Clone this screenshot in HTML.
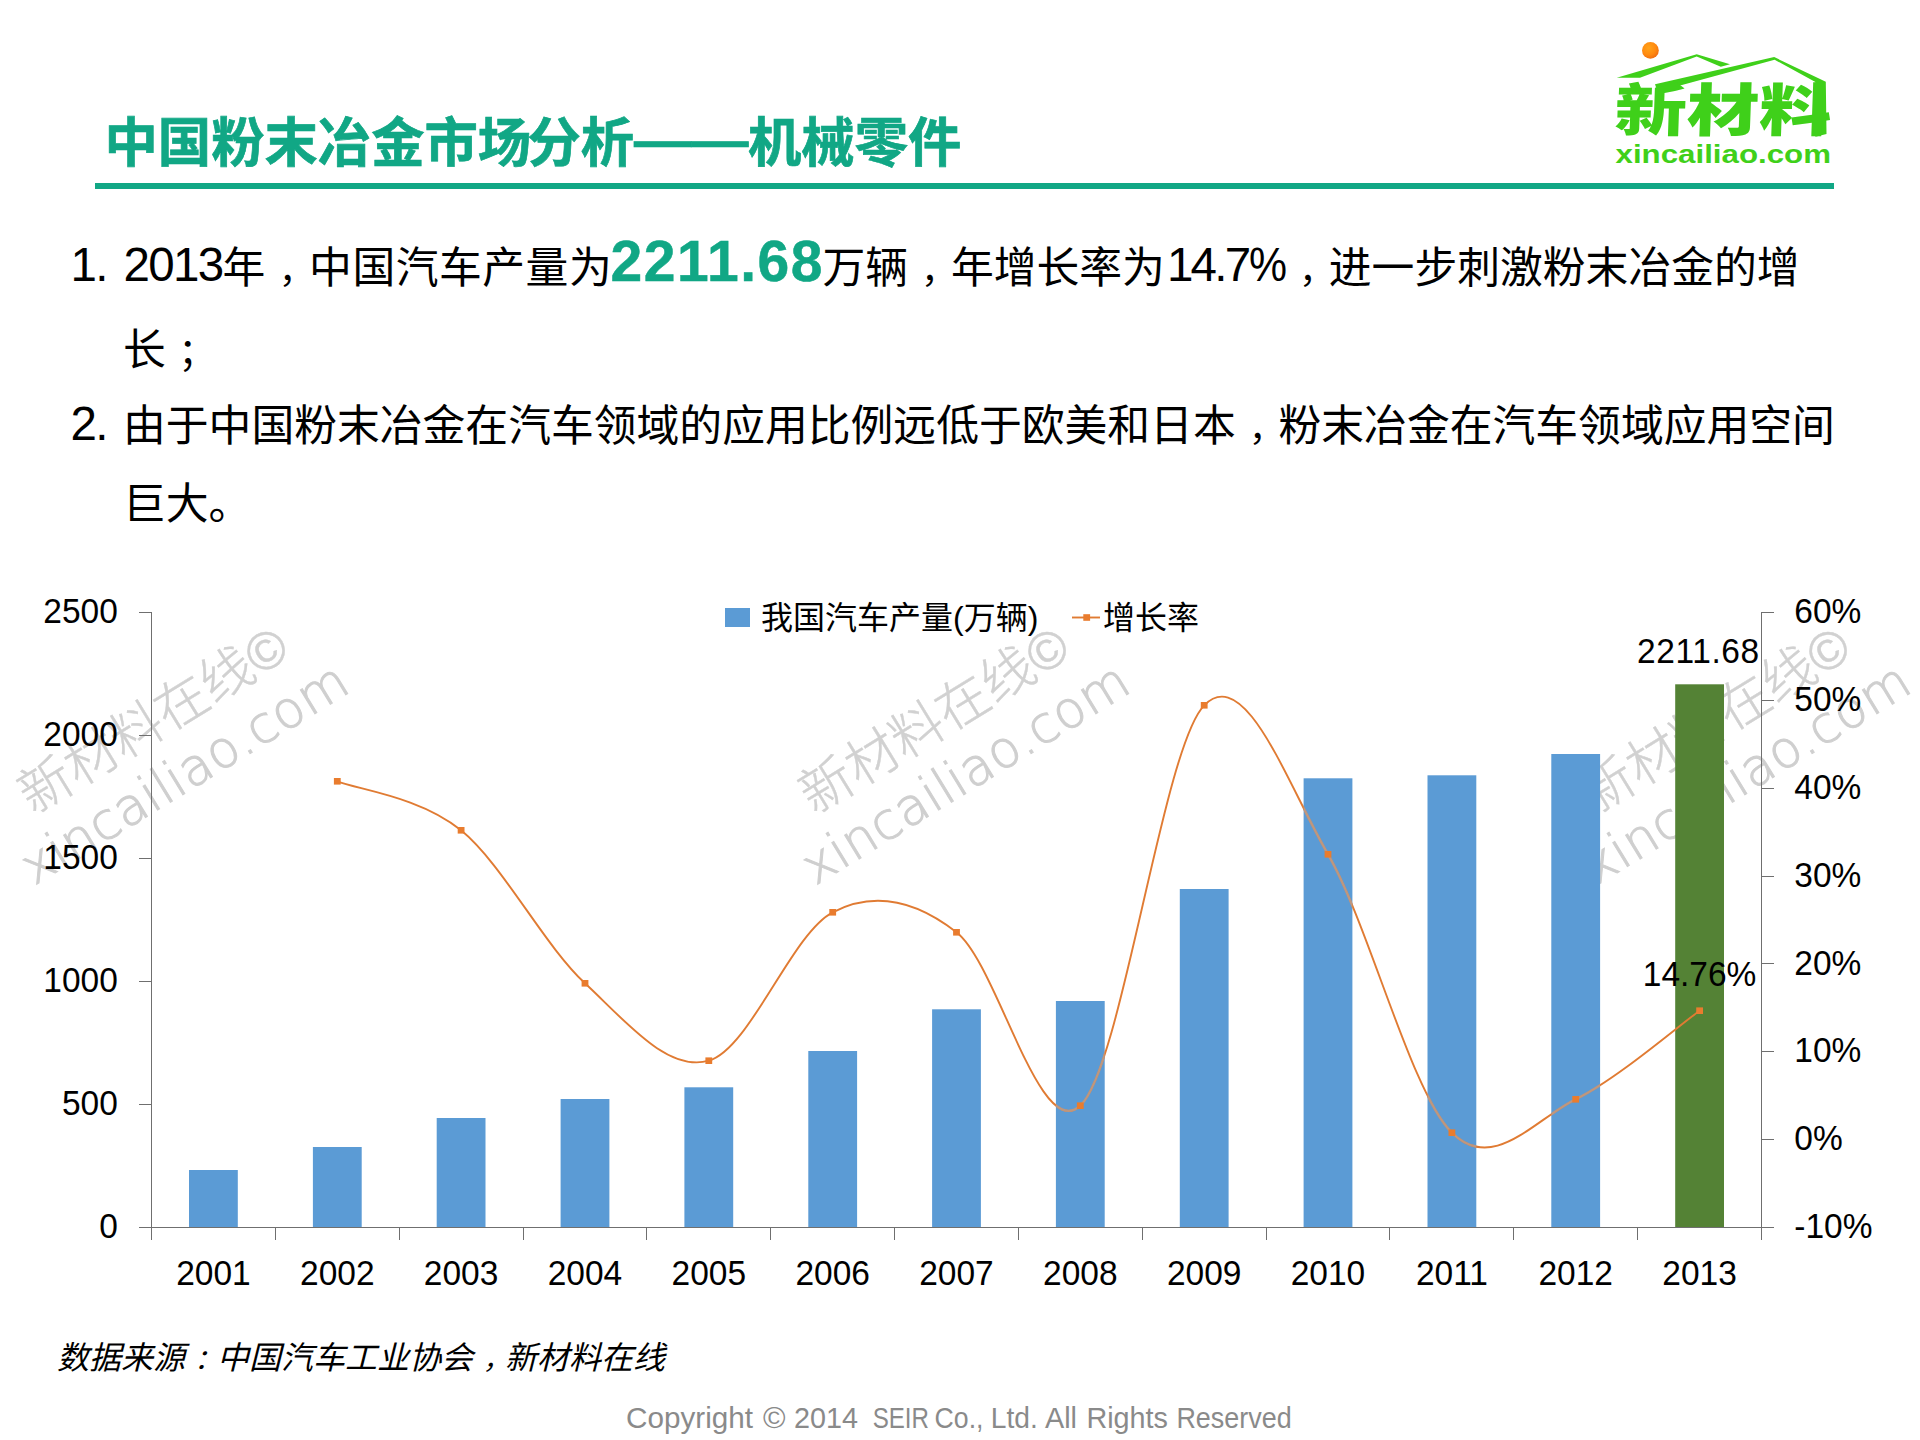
<!DOCTYPE html>
<html lang="zh-CN">
<head>
<meta charset="utf-8">
<title>中国粉末冶金市场分析——机械零件</title>
<style>
html,body{margin:0;padding:0;background:#fff;}
body{width:1920px;height:1440px;position:relative;overflow:hidden;font-family:"Liberation Sans","Noto Sans CJK SC",sans-serif;color:#000;}
.abs{position:absolute;white-space:nowrap;}
.title{top:104.2px;font-size:53.33px;line-height:80px;font-weight:bold;color:#11a785;-webkit-text-stroke:0.7px #11a785;}
#rule{left:95px;top:183px;width:1739px;height:6px;background:#11a785;}
.body{font-size:42.8px;line-height:80px;}
.d{font-size:47.5px;letter-spacing:-1.7px;}
.cm{position:relative;left:13px;font-size:36px;margin-right:6.8px;}
.sc{position:relative;left:12.5px;font-size:38px;margin-right:4.8px;}
.num{font-weight:bold;color:#11a785;font-size:57px;letter-spacing:1.5px;-webkit-text-stroke:0.5px #11a785;}
#src{left:57px;top:1331.5px;font-size:32px;line-height:52px;font-style:italic;}
svg{position:absolute;left:0;top:0;}
h1{margin:0;padding:0;font:inherit;}
</style>
</head>
<body>
<svg id="wm" width="1920" height="1440" viewBox="0 0 1920 1440">
<g transform="translate(153,718) rotate(-31.5)" text-anchor="middle"><text x="-1" y="20" fill="#d1d1d1" stroke="#d1d1d1" stroke-width="0.4" font-family="'Liberation Sans', 'Noto Sans CJK SC', sans-serif" font-weight="300" font-size="53">新材料在线©</text><text x="-2" y="81" fill="#cfcfcf" stroke="#cfcfcf" stroke-width="1" font-family="'DejaVu Sans', 'Liberation Sans', sans-serif" font-weight="200" font-size="51" letter-spacing="0.6">xincailiao.com</text></g>
<g transform="translate(934,718) rotate(-31.5)" text-anchor="middle"><text x="-1" y="20" fill="#d1d1d1" stroke="#d1d1d1" stroke-width="0.4" font-family="'Liberation Sans', 'Noto Sans CJK SC', sans-serif" font-weight="300" font-size="53">新材料在线©</text><text x="-2" y="81" fill="#cfcfcf" stroke="#cfcfcf" stroke-width="1" font-family="'DejaVu Sans', 'Liberation Sans', sans-serif" font-weight="200" font-size="51" letter-spacing="0.6">xincailiao.com</text></g>
<g transform="translate(1715,718) rotate(-31.5)" text-anchor="middle"><text x="-1" y="20" fill="#d1d1d1" stroke="#d1d1d1" stroke-width="0.4" font-family="'Liberation Sans', 'Noto Sans CJK SC', sans-serif" font-weight="300" font-size="53">新材料在线©</text><text x="-2" y="81" fill="#cfcfcf" stroke="#cfcfcf" stroke-width="1" font-family="'DejaVu Sans', 'Liberation Sans', sans-serif" font-weight="200" font-size="51" letter-spacing="0.6">xincailiao.com</text></g>
</svg>
<h1><span class="abs title" style="left:104.5px;">中国粉末冶金市场</span><span class="abs title" style="left:527.5px;">分析</span><span class="abs title" style="left:634.4px;top:101.2px;"><span style="display:inline-block;transform:scaleX(1.072);transform-origin:0 50%;">——</span></span><span class="abs title" style="left:748px;">机械零件</span></h1>
<div class="abs" id="rule"></div>
<div class="abs body" style="left:70.5px;top:224.5px;"><span class="d">1.</span></div>
<div class="abs body" style="left:123.5px;top:224.5px;"><span class="d">2013</span></div>
<div class="abs body" style="left:222.5px;top:227.5px;letter-spacing:0.5px;">年<span class="cm">，</span>中国汽车产量为</div>
<div class="abs body" style="left:610.5px;top:221px;"><span class="num">2211.68</span></div>
<div class="abs body" style="left:822.5px;top:227.5px;">万辆<span class="cm">，</span>年增长率为</div>
<div class="abs body" style="left:1167px;top:224.5px;"><span class="d" style="letter-spacing:-2.8px;">14.7</span><span class="d" style="display:inline-block;transform:scaleX(0.9);transform-origin:0 50%;letter-spacing:0;margin-left:0.5px;">%</span></div>
<div class="abs body" style="left:1286px;top:227.5px;"><span class="cm">，</span>进一步刺激粉末冶金的增</div>
<div class="abs body" style="left:123px;top:309.5px;">长<span class="sc">；</span></div>
<div class="abs body" style="left:70.5px;top:383.5px;"><span class="d">2.</span></div>
<div class="abs body" style="left:123px;top:385.5px;">由于中国粉末冶金在汽车领域的应用比例远低于欧美和日本<span class="cm">，</span>粉末冶金在汽车领域应用空间</div>
<div class="abs body" style="left:123px;top:463.5px;">巨大。</div>
<svg id="logo" width="1920" height="1440" viewBox="0 0 1920 1440">
<defs>
<radialGradient id="sun" cx="0.4" cy="0.35" r="0.7"><stop offset="0" stop-color="#ffa31a"/><stop offset="0.6" stop-color="#ff8a0f"/><stop offset="1" stop-color="#ee6a10"/></radialGradient>
</defs>
<circle cx="1650.4" cy="50.4" r="8.4" fill="url(#sun)"/>
<g fill="#3fd01a">
<polygon points="1616.7,77.7 1696.7,54.3 1730,64.2 1720.8,66.7 1696.7,56.4 1640,77.7"/>
<polygon points="1655,84.2 1774.2,57.1 1825.8,81.7 1826.5,134 1815.4,136.7 1815.4,82 1774.6,59.7 1682,85 1657,90"/>
<text x="1614" y="131.5" font-family="'Liberation Sans','Noto Sans CJK SC',sans-serif" font-weight="900" font-size="57" textLength="217" lengthAdjust="spacingAndGlyphs" transform="translate(4.5,0) skewX(-2)">新材料</text>
<text x="1615.5" y="162.6" font-family="'Liberation Sans',sans-serif" font-weight="bold" font-size="25.6" textLength="215.5" lengthAdjust="spacingAndGlyphs">xincailiao.com</text>
</g>
</svg>
<svg id="chart" width="1920" height="1440" viewBox="0 0 1920 1440">
<rect x="189.0" y="1170.0" width="48.8" height="57.5" fill="#5b9bd5"/>
<rect x="312.9" y="1147.0" width="48.8" height="80.5" fill="#5b9bd5"/>
<rect x="436.7" y="1118.0" width="48.8" height="109.5" fill="#5b9bd5"/>
<rect x="560.6" y="1099.0" width="48.8" height="128.5" fill="#5b9bd5"/>
<rect x="684.4" y="1087.3" width="48.8" height="140.2" fill="#5b9bd5"/>
<rect x="808.3" y="1051.0" width="48.8" height="176.5" fill="#5b9bd5"/>
<rect x="932.1" y="1009.3" width="48.8" height="218.2" fill="#5b9bd5"/>
<rect x="1055.9" y="1001.0" width="48.8" height="226.5" fill="#5b9bd5"/>
<rect x="1179.8" y="889.0" width="48.8" height="338.5" fill="#5b9bd5"/>
<rect x="1303.6" y="778.3" width="48.8" height="449.2" fill="#5b9bd5"/>
<rect x="1427.5" y="775.3" width="48.8" height="452.2" fill="#5b9bd5"/>
<rect x="1551.3" y="754.0" width="48.8" height="473.5" fill="#5b9bd5"/>
<rect x="1675.2" y="684.3" width="48.8" height="543.2" fill="#548235"/>
<g stroke="#6f6f6f" stroke-width="1" fill="none" shape-rendering="crispEdges">
<line x1="151.5" y1="612.0" x2="151.5" y2="1240.0"/>
<line x1="1761.5" y1="612.0" x2="1761.5" y2="1240.0"/>
<line x1="139.0" y1="1227.5" x2="1774.0" y2="1227.5"/>
<line x1="139.0" y1="612.5" x2="151.5" y2="612.5"/>
<line x1="139.0" y1="735.5" x2="151.5" y2="735.5"/>
<line x1="139.0" y1="858.5" x2="151.5" y2="858.5"/>
<line x1="139.0" y1="981.5" x2="151.5" y2="981.5"/>
<line x1="139.0" y1="1104.5" x2="151.5" y2="1104.5"/>
<line x1="1761.5" y1="612.5" x2="1774.0" y2="612.5"/>
<line x1="1761.5" y1="700.5" x2="1774.0" y2="700.5"/>
<line x1="1761.5" y1="788.5" x2="1774.0" y2="788.5"/>
<line x1="1761.5" y1="876.5" x2="1774.0" y2="876.5"/>
<line x1="1761.5" y1="963.5" x2="1774.0" y2="963.5"/>
<line x1="1761.5" y1="1051.5" x2="1774.0" y2="1051.5"/>
<line x1="1761.5" y1="1139.5" x2="1774.0" y2="1139.5"/>
<line x1="275.5" y1="1227.5" x2="275.5" y2="1240.0"/>
<line x1="399.5" y1="1227.5" x2="399.5" y2="1240.0"/>
<line x1="523.5" y1="1227.5" x2="523.5" y2="1240.0"/>
<line x1="646.5" y1="1227.5" x2="646.5" y2="1240.0"/>
<line x1="770.5" y1="1227.5" x2="770.5" y2="1240.0"/>
<line x1="894.5" y1="1227.5" x2="894.5" y2="1240.0"/>
<line x1="1018.5" y1="1227.5" x2="1018.5" y2="1240.0"/>
<line x1="1142.5" y1="1227.5" x2="1142.5" y2="1240.0"/>
<line x1="1266.5" y1="1227.5" x2="1266.5" y2="1240.0"/>
<line x1="1389.5" y1="1227.5" x2="1389.5" y2="1240.0"/>
<line x1="1513.5" y1="1227.5" x2="1513.5" y2="1240.0"/>
<line x1="1637.5" y1="1227.5" x2="1637.5" y2="1240.0"/>
</g>
<path d="M337.3,781.3 C357.9,789.5 419.8,796.6 461.1,830.3 C502.4,864.0 543.7,944.9 585.0,983.3 C626.2,1021.7 667.5,1072.5 708.8,1060.7 C750.1,1048.9 791.4,933.7 832.7,912.3 C873.9,890.9 915.2,900.1 956.5,932.3 C997.8,964.5 1039.1,1143.5 1080.3,1105.7 C1121.6,1067.9 1162.9,747.2 1204.2,705.3 C1245.5,663.4 1286.8,783.1 1328.0,854.3 C1369.3,925.5 1410.6,1091.9 1451.9,1132.7 C1493.2,1173.5 1534.4,1119.6 1575.7,1099.3 C1617.0,1079.0 1678.9,1025.5 1699.6,1010.7" fill="none" stroke="#e07b33" stroke-width="1.9"/>
<clipPath id="barclip"><rect x="189.0" y="1170.0" width="48.8" height="57.5"/><rect x="312.9" y="1147.0" width="48.8" height="80.5"/><rect x="436.7" y="1118.0" width="48.8" height="109.5"/><rect x="560.6" y="1099.0" width="48.8" height="128.5"/><rect x="684.4" y="1087.3" width="48.8" height="140.2"/><rect x="808.3" y="1051.0" width="48.8" height="176.5"/><rect x="932.1" y="1009.3" width="48.8" height="218.2"/><rect x="1055.9" y="1001.0" width="48.8" height="226.5"/><rect x="1179.8" y="889.0" width="48.8" height="338.5"/><rect x="1303.6" y="778.3" width="48.8" height="449.2"/><rect x="1427.5" y="775.3" width="48.8" height="452.2"/><rect x="1551.3" y="754.0" width="48.8" height="473.5"/></clipPath>
<path d="M337.3,781.3 C357.9,789.5 419.8,796.6 461.1,830.3 C502.4,864.0 543.7,944.9 585.0,983.3 C626.2,1021.7 667.5,1072.5 708.8,1060.7 C750.1,1048.9 791.4,933.7 832.7,912.3 C873.9,890.9 915.2,900.1 956.5,932.3 C997.8,964.5 1039.1,1143.5 1080.3,1105.7 C1121.6,1067.9 1162.9,747.2 1204.2,705.3 C1245.5,663.4 1286.8,783.1 1328.0,854.3 C1369.3,925.5 1410.6,1091.9 1451.9,1132.7 C1493.2,1173.5 1534.4,1119.6 1575.7,1099.3 C1617.0,1079.0 1678.9,1025.5 1699.6,1010.7" fill="none" stroke="#bd9780" stroke-width="2.3" clip-path="url(#barclip)"/>
<rect x="333.9" y="778.0" width="6.8" height="6.6" fill="#e97c2e"/>
<rect x="457.7" y="827.0" width="6.8" height="6.6" fill="#e97c2e"/>
<rect x="581.6" y="980.0" width="6.8" height="6.6" fill="#e97c2e"/>
<rect x="705.4" y="1057.4" width="6.8" height="6.6" fill="#e97c2e"/>
<rect x="829.3" y="909.0" width="6.8" height="6.6" fill="#e97c2e"/>
<rect x="953.1" y="929.0" width="6.8" height="6.6" fill="#e97c2e"/>
<rect x="1076.9" y="1102.4" width="6.8" height="6.6" fill="#e97c2e"/>
<rect x="1200.8" y="702.0" width="6.8" height="6.6" fill="#e97c2e"/>
<rect x="1324.6" y="851.0" width="6.8" height="6.6" fill="#e97c2e"/>
<rect x="1448.5" y="1129.4" width="6.8" height="6.6" fill="#e97c2e"/>
<rect x="1572.3" y="1096.0" width="6.8" height="6.6" fill="#e97c2e"/>
<rect x="1696.2" y="1007.4" width="6.8" height="6.6" fill="#e97c2e"/>
<g font-family="'Liberation Sans', 'Noto Sans CJK SC', sans-serif" font-size="33" fill="#000">
<text transform="translate(117.8,623.3) scale(1.015,1.09)" text-anchor="end">2500</text>
<text transform="translate(117.8,746.3) scale(1.015,1.09)" text-anchor="end">2000</text>
<text transform="translate(117.8,869.3) scale(1.015,1.09)" text-anchor="end">1500</text>
<text transform="translate(117.8,992.3) scale(1.015,1.09)" text-anchor="end">1000</text>
<text transform="translate(117.8,1115.3) scale(1.015,1.09)" text-anchor="end">500</text>
<text transform="translate(117.8,1238.3) scale(1.015,1.09)" text-anchor="end">0</text>
<text transform="translate(1794.3,623.1) scale(1.015,1.09)">60%</text>
<text transform="translate(1794.3,711.0) scale(1.015,1.09)">50%</text>
<text transform="translate(1794.3,798.8) scale(1.015,1.09)">40%</text>
<text transform="translate(1794.3,886.7) scale(1.015,1.09)">30%</text>
<text transform="translate(1794.3,974.5) scale(1.015,1.09)">20%</text>
<text transform="translate(1794.3,1062.4) scale(1.015,1.09)">10%</text>
<text transform="translate(1794.3,1150.2) scale(1.015,1.09)">0%</text>
<text transform="translate(1794.3,1238.1) scale(1.015,1.09)">-10%</text>
<text transform="translate(213.4,1284.7) scale(1.015,1.09)" text-anchor="middle">2001</text>
<text transform="translate(337.3,1284.7) scale(1.015,1.09)" text-anchor="middle">2002</text>
<text transform="translate(461.1,1284.7) scale(1.015,1.09)" text-anchor="middle">2003</text>
<text transform="translate(585.0,1284.7) scale(1.015,1.09)" text-anchor="middle">2004</text>
<text transform="translate(708.8,1284.7) scale(1.015,1.09)" text-anchor="middle">2005</text>
<text transform="translate(832.7,1284.7) scale(1.015,1.09)" text-anchor="middle">2006</text>
<text transform="translate(956.5,1284.7) scale(1.015,1.09)" text-anchor="middle">2007</text>
<text transform="translate(1080.3,1284.7) scale(1.015,1.09)" text-anchor="middle">2008</text>
<text transform="translate(1204.2,1284.7) scale(1.015,1.09)" text-anchor="middle">2009</text>
<text transform="translate(1328.0,1284.7) scale(1.015,1.09)" text-anchor="middle">2010</text>
<text transform="translate(1451.9,1284.7) scale(1.015,1.09)" text-anchor="middle">2011</text>
<text transform="translate(1575.7,1284.7) scale(1.015,1.09)" text-anchor="middle">2012</text>
<text transform="translate(1699.6,1284.7) scale(1.015,1.09)" text-anchor="middle">2013</text>
<text transform="translate(1698.4,662.9) scale(1.015,1.09)" text-anchor="middle" letter-spacing="0.6">2211.68</text>
<text transform="translate(1699.6,986.3) scale(1.015,1.09)" text-anchor="middle">14.76%</text>
<rect x="725" y="608" width="25" height="19" fill="#5b9bd5"/>
<text x="761" y="629" font-size="32">我国汽车产量(万辆)</text>
<line x1="1072" y1="617.5" x2="1100" y2="617.5" stroke="#e07b33" stroke-width="1.9"/>
<rect x="1083.3" y="614.2" width="6.8" height="6.6" fill="#e97c2e"/>
<text x="1103" y="629" font-size="32">增长率</text>
</g>
</svg>
<div class="abs" id="src">数据来源<span style="position:relative;left:9px;font-size:28px;margin-right:4px;">：</span>中国汽车工业协会<span style="position:relative;left:10px;font-size:27px;margin-right:5px;">，</span>新材料在线</div>
<svg id="copy" width="1920" height="1440" viewBox="0 0 1920 1440"><text y="1427.5" font-family="'Liberation Sans',sans-serif" font-size="29.5" fill="#8a8a8a"><tspan x="626.0" textLength="127.0" lengthAdjust="spacingAndGlyphs">Copyright</tspan><tspan x="763.0" textLength="22.5" lengthAdjust="spacingAndGlyphs">©</tspan><tspan x="794.0" textLength="64.0" lengthAdjust="spacingAndGlyphs">2014</tspan><tspan x="872.7" textLength="56.3" lengthAdjust="spacingAndGlyphs">SEIR</tspan><tspan x="934.6" textLength="48.9" lengthAdjust="spacingAndGlyphs">Co.,</tspan><tspan x="990.8" textLength="47.0" lengthAdjust="spacingAndGlyphs">Ltd.</tspan><tspan x="1045.0" textLength="32.0" lengthAdjust="spacingAndGlyphs">All</tspan><tspan x="1086.4" textLength="81.6" lengthAdjust="spacingAndGlyphs">Rights</tspan><tspan x="1176.4" textLength="115.3" lengthAdjust="spacingAndGlyphs">Reserved</tspan></text></svg>
</body>
</html>
